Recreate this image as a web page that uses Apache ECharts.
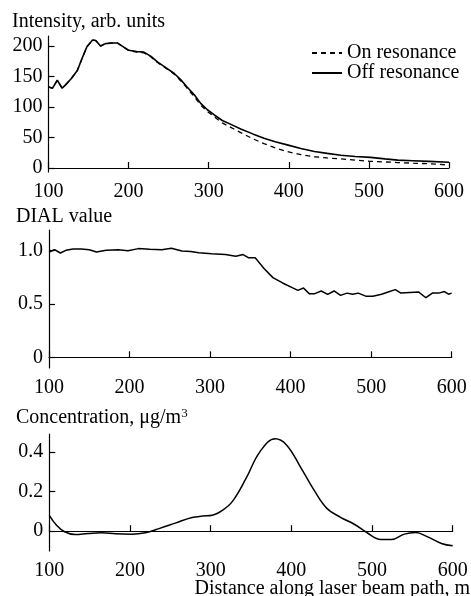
<!DOCTYPE html>
<html>
<head>
<meta charset="utf-8">
<script src="https://cdn.jsdelivr.net/npm/echarts@6/dist/echarts.min.js"></script>
<style>
html,body{margin:0;padding:0;background:#fff;}
#chart{width:471px;height:596px;}
</style>
</head>
<body>
<div id="chart"></div>
<script>
// ---- Data ----
const distI = [100,105,111,117,121,128,136,142,148,155,159,165,171,180,186,193,200,210,219,228,236,246,257,265,273,282,290,298,307,317,327,340,355,369,383,398,415,432,448,465,483,502,520,536,555,575,600];
const offResonance = [133,131,144,131,136,146,160,180,199,210,209,200,204,205,205,199,193,191,190,183,174,165,155,145,133,120,106,96,87,78,72,64,56,49,43,38,32,27,24,21,19,17.5,15,13,12,11,9.5];
const onResonance  = [133,131,144,131,136,146,160,180,199,210,209,200,204,205,205,199,193,190,189,182,173,164,154,143,131,117,103,93,84,74,67,58,48,40,33,27,22,18.5,16.5,15,13,11,10,9,8,7,5];

const distD = [100,107,114,121,130,140,150,159,171,186,198,211,225,240,252,265,276,286,302,319,332,341,348,356,367,378,390,402,409,416,423,430,438,446,454,462,470,477,484,494,502,513,521,530,537,548,559,568,576,584,591,596,600];
const dialValue = [0.984,1.006,0.975,1.0,1.012,1.012,1.006,0.984,1.0,1.006,0.997,1.016,1.01,1.006,1.019,0.994,0.99,0.978,0.969,0.96,0.944,0.96,0.93,0.93,0.83,0.745,0.695,0.651,0.626,0.648,0.595,0.595,0.62,0.589,0.62,0.579,0.6,0.59,0.6,0.57,0.57,0.59,0.61,0.633,0.6,0.605,0.61,0.557,0.6,0.6,0.615,0.59,0.6];

const distC = [100,109,119,132,148,165,182,202,219,236,257,277,290,302,315,327,344,361,380,394,411,428,444,461,478,494,511,524,540,554,569,586,600];
const concentration = [0.08,0.03,-0.003,-0.017,-0.012,-0.008,-0.013,-0.015,-0.008,0.013,0.042,0.069,0.076,0.08,0.106,0.15,0.267,0.40,0.466,0.435,0.326,0.208,0.115,0.07,0.035,-0.008,-0.042,-0.042,-0.015,-0.007,-0.029,-0.062,-0.074];

const xTicks = [100,200,300,400,500,600];
const intensityTicks = [0,50,100,150,200];
const dialTicks = [0,0.5,1.0];
const dialTickLabels = ['0','0.5','1.0'];
const concTicks = [0,0.2,0.4];
const concTickLabels = ['0','0.2','0.4'];

const titles = ['Intensity, arb. units','DIAL value','Concentration, μg/m','Distance along laser beam path, m'];
const legendNames = ['On resonance','Off resonance'];

// ---- Chart ----
const FONT = 'Liberation Serif';
const chart = echarts.init(document.getElementById('chart'), null, {renderer:'canvas'});
const pair = (xs, ys) => xs.map((x,i)=>[x, ys[i]]);

function xAxisCfg(gi){
  return {
    type:'value', gridIndex:gi, min:100, max:600, interval:100,
    axisLine:{show:true, lineStyle:{color:'#000', width:1.2}},
    axisTick:{show:true, inside:true, length:6, lineStyle:{color:'#000', width:1.2}},
    axisLabel:{color:'#000', fontFamily:FONT, fontSize:20, margin:10},
    splitLine:{show:false}
  };
}
function yAxisCfg(gi, min, max, vals, labels){
  return {
    type:'value', gridIndex:gi, min:min, max:max,
    axisLine:{show:true, lineStyle:{color:'#000', width:1.2}},
    axisTick:{show:true, inside:true, length:6, customValues:vals, lineStyle:{color:'#000', width:1.2}},
    axisLabel:{color:'#000', fontFamily:FONT, fontSize:20, margin:6, customValues:vals,
      formatter:(v)=>{ const i = vals.findIndex(t=>Math.abs(t-v)<1e-9); return labels ? labels[i] : String(v); }},
    splitLine:{show:false}
  };
}

const option = {
  animation:false,
  backgroundColor:'#fff',
  textStyle:{fontFamily:FONT},
  grid:[
    {left:48.5, width:400.5, top:36, height:136},
    {left:49, width:402.7, top:230, height:138},
    {left:49.3, width:403.4, top:434, height:117}
  ],
  xAxis:[xAxisCfg(0), xAxisCfg(1), xAxisCfg(2)],
  yAxis:[
    yAxisCfg(0, -6.5, 216.5, intensityTicks, null),
    yAxisCfg(1, -0.1, 1.19, dialTicks, dialTickLabels),
    yAxisCfg(2, -0.1, 0.49, concTicks, concTickLabels)
  ],
  legend:{
    orient:'vertical', left:306, top:38, itemGap:0, itemWidth:30, itemHeight:19,
    data:legendNames,
    itemStyle:{opacity:0},
    textStyle:{color:'#000', fontFamily:FONT, fontSize:20},
    selectedMode:false
  },
  graphic:[
    {type:'text', left:12, top:12, style:{text:titles[0], fontFamily:FONT, fontSize:20, fill:'#000'}},
    {type:'text', left:16, top:207, style:{text:titles[1], fontFamily:FONT, fontSize:20, fill:'#000'}},
    {type:'text', left:16, top:407, style:{
      text:titles[2] + '{sup|3}', fontFamily:FONT, fontSize:20, fill:'#000',
      rich:{sup:{fontFamily:FONT, fontSize:13, fill:'#000', verticalAlign:'top', padding:[0,0,8,0]}}
    }},
    {type:'text', right:1, top:579, style:{text:titles[3], fontFamily:FONT, fontSize:20, fill:'#000'}}
  ],
  series:[
    {name:legendNames[0], type:'line', xAxisIndex:0, yAxisIndex:0, data:pair(distI, onResonance),
      showSymbol:false, symbol:'none', lineStyle:{color:'#000', width:1.3, type:[5,4]}, itemStyle:{color:'#000'}},
    {name:legendNames[1], type:'line', xAxisIndex:0, yAxisIndex:0, data:pair(distI, offResonance),
      showSymbol:false, symbol:'none', lineStyle:{color:'#000', width:1.6}, itemStyle:{color:'#000'}},
    {name:'DIAL', type:'line', xAxisIndex:1, yAxisIndex:1, data:pair(distD, dialValue),
      showSymbol:false, symbol:'none', lineStyle:{color:'#000', width:1.5}},
    {name:'Concentration', type:'line', xAxisIndex:2, yAxisIndex:2, data:pair(distC, concentration),
      smooth:0.4, showSymbol:false, symbol:'none', lineStyle:{color:'#000', width:1.5}}
  ]
};
chart.setOption(option);
</script>
</body>
</html>
